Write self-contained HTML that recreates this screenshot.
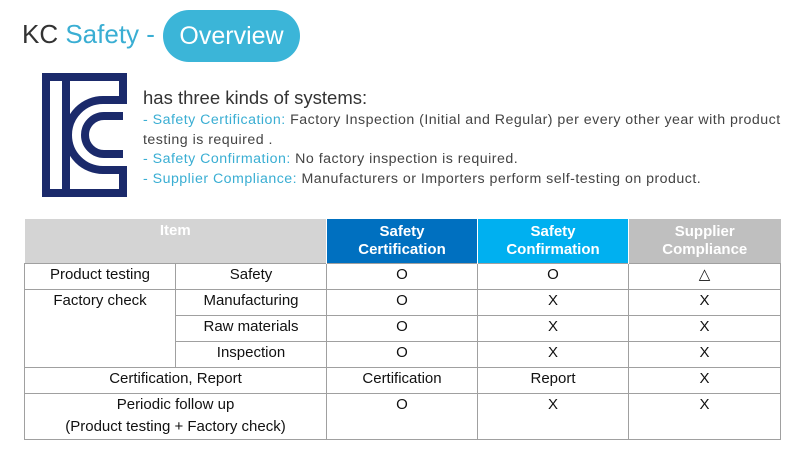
<!DOCTYPE html>
<html><head><meta charset="utf-8"><style>
body{margin:0;width:797px;height:456px;background:#fff;position:relative;overflow:hidden;font-family:"Liberation Sans",sans-serif;}
.a{position:absolute;white-space:nowrap;}
table{position:absolute;left:24px;top:219px;border-collapse:collapse;font-size:15px;color:#111;table-layout:fixed;width:756px;}
td{border:1px solid #a0a0a0;text-align:center;padding:0;vertical-align:top;line-height:22px;}
th{color:#fff;font-weight:bold;font-size:15px;line-height:18px;padding:0;border:none;border-right:1px solid #fff;}
.b{color:#3aaed3}
</style></head><body>
<div class="a" style="left:22px;top:19px;font-size:26px;color:#333">KC <span class="b">Safety -</span></div>
<div class="a" style="left:163px;top:10px;width:137px;height:52px;border-radius:26px;background:#3bb5d8;color:#fff;font-size:25px;line-height:52px;text-align:center">Overview</div>
<svg class="a" style="left:0;top:0" width="140" height="210">
<g fill="none" stroke="#1b2a6b" stroke-width="8">
<path d="M123,100 V77 H46 V193 H123 V170 H103 A35,35 0 0 1 103,100 Z"/>
<path d="M66,77 V193"/>
<path d="M123,116 H104 A19,19 0 0 0 104,154 H123"/>
</g></svg>
<div class="a" style="left:143px;top:87px;font-size:18.5px;color:#333">has three kinds of systems:</div>
<div class="a" style="left:143px;top:111px;font-size:14.2px;letter-spacing:0.48px;color:#444;line-height:19.5px"><span class="b">- Safety Certification:</span> Factory Inspection (Initial and Regular) per every other year with product<br>testing is required .<br><span class="b">- Safety Confirmation:</span> No factory inspection is required.<br><span class="b">- Supplier Compliance:</span> Manufacturers or Importers perform self-testing on product.</div>
<table>
<colgroup><col style="width:151px"><col style="width:151px"><col style="width:151px"><col style="width:151px"><col style="width:152px"></colgroup>
<tr style="height:44px"><th colspan="2" style="background:#d4d4d4;vertical-align:top;padding-top:3px">Item</th><th style="background:#0070c0">Safety<br>Certification</th><th style="background:#00b0f0">Safety<br>Confirmation</th><th style="background:#bfbfbf;border-right:none">Supplier<br>Compliance</th></tr>
<tr style="height:26px"><td>Product testing</td><td>Safety</td><td>O</td><td>O</td><td>△</td></tr>
<tr style="height:26px"><td rowspan="3">Factory check</td><td>Manufacturing</td><td>O</td><td>X</td><td>X</td></tr>
<tr style="height:26px"><td>Raw materials</td><td>O</td><td>X</td><td>X</td></tr>
<tr style="height:26px"><td>Inspection</td><td>O</td><td>X</td><td>X</td></tr>
<tr style="height:26px"><td colspan="2">Certification, Report</td><td>Certification</td><td>Report</td><td>X</td></tr>
<tr style="height:46px"><td colspan="2">Periodic follow up<br>(Product testing + Factory check)</td><td>O</td><td>X</td><td>X</td></tr>
</table>
</body></html>
